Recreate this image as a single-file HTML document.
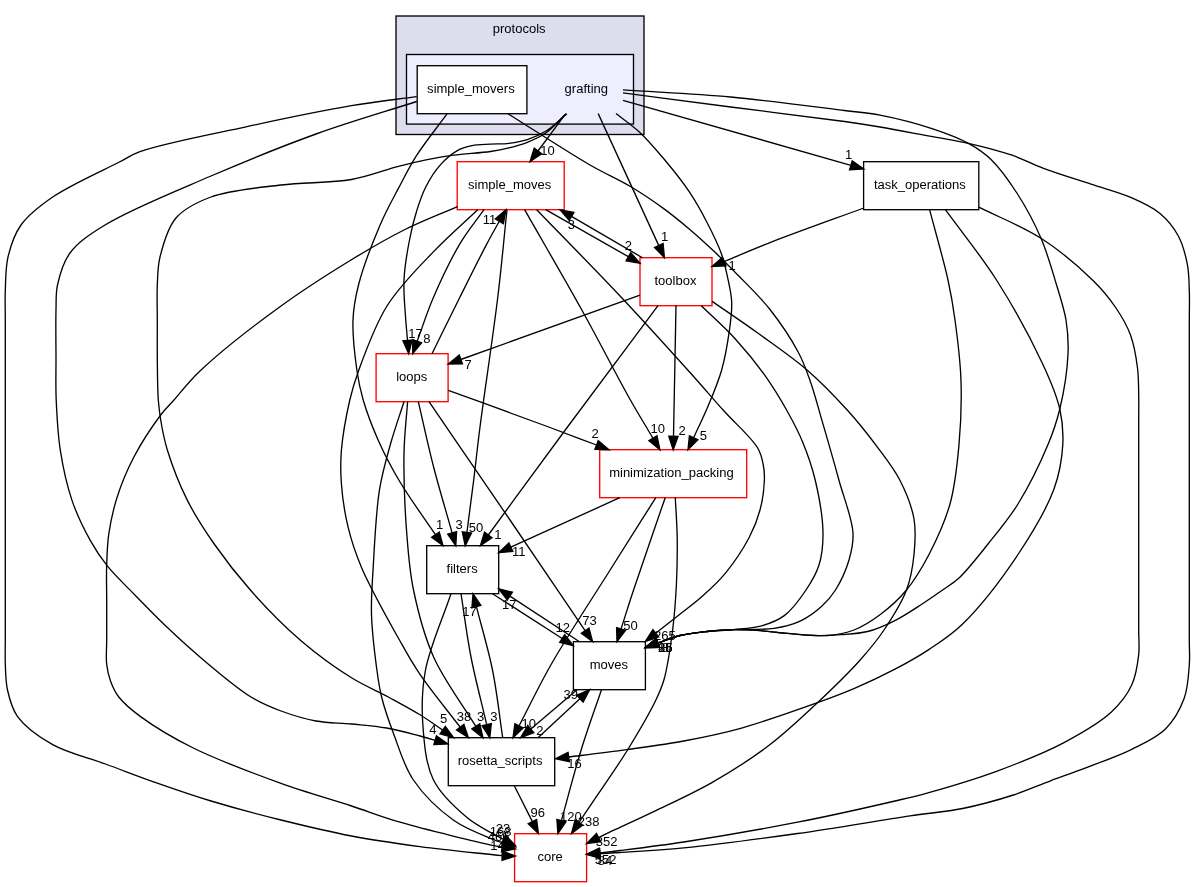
<!DOCTYPE html><html><head><meta charset="utf-8"><title>src/protocols/grafting</title>
<style>html,body{margin:0;padding:0;background:#fff}svg{display:block;will-change:transform}text{font-family:"Liberation Sans", sans-serif;font-size:13.33px;text-anchor:middle;fill:#000}.e path{fill:none;stroke:#000;stroke-width:1.33}.e polygon{fill:#000;stroke:#000;stroke-width:1.33}.n rect{stroke-width:1.33}</style></head><body>
<svg width="1195" height="887" viewBox="0 0 1195 887">
<rect width="1195" height="887" fill="#fff"/>
<rect x="396.0" y="16.0" width="248.0" height="118.5" fill="#ddddee" stroke="#000" stroke-width="1.33"/>
<text transform="translate(519.2 33.4) scale(0.978 1)">protocols</text>
<rect x="406.5" y="54.5" width="227.0" height="69.6" fill="#eeeeff" stroke="#000" stroke-width="1.33"/>
<text transform="translate(586.3 93.0) scale(0.978 1)">grafting</text>
<g class="n">
<rect x="417.2" y="65.7" width="109.7" height="48" fill="white" stroke="#000"/><text transform="translate(470.9 93.3) scale(0.978 1)">simple_movers</text>
<rect x="457.2" y="161.7" width="107.0" height="48" fill="white" stroke="#ff0000"/><text transform="translate(509.7 189.3) scale(0.978 1)">simple_moves</text>
<rect x="863.6" y="161.7" width="115.2" height="48" fill="white" stroke="#000"/><text transform="translate(919.9 189.3) scale(0.978 1)">task_operations</text>
<rect x="640.0" y="257.7" width="72.0" height="48" fill="white" stroke="#ff0000"/><text transform="translate(675.4 285.3) scale(0.978 1)">toolbox</text>
<rect x="376.1" y="353.7" width="72.0" height="48" fill="white" stroke="#ff0000"/><text transform="translate(411.7 381.3) scale(0.978 1)">loops</text>
<rect x="599.7" y="449.7" width="147.0" height="48" fill="white" stroke="#ff0000"/><text transform="translate(671.4 477.3) scale(0.978 1)">minimization_packing</text>
<rect x="426.7" y="545.7" width="72.0" height="48" fill="white" stroke="#000"/><text transform="translate(462.1 573.3) scale(0.978 1)">filters</text>
<rect x="573.4" y="641.7" width="72.0" height="48" fill="white" stroke="#000"/><text transform="translate(608.9 669.3) scale(0.978 1)">moves</text>
<rect x="448.3" y="737.7" width="106.4" height="48" fill="white" stroke="#000"/><text transform="translate(500.1 765.3) scale(0.978 1)">rosetta_scripts</text>
<rect x="514.6" y="833.7" width="72.0" height="48" fill="white" stroke="#ff0000"/><text transform="translate(550.2 861.3) scale(0.978 1)">core</text>
</g><g class="e">
<path d="M416.7,96.6C395.0,99.6 375.8,101.6 351.5,105.7C320.5,111.0 281.1,119.2 246.0,126.8C210.8,134.4 162.0,143.6 140.6,151.4C130.6,155.0 128.5,157.4 119.5,162.0C103.5,170.2 70.3,184.9 52.7,197.0C39.5,206.1 28.5,214.4 21.0,225.0C14.2,234.6 10.6,246.0 8.0,257.0C5.5,267.7 5.8,279.3 5.3,290.0C4.9,300.2 5.3,307.6 5.3,320.0C5.3,340.3 5.3,369.2 5.3,400.0C5.3,442.2 5.3,506.4 5.3,550.0C5.3,583.8 5.3,619.6 5.3,640.0C5.3,650.6 5.0,655.8 5.3,664.0C5.7,672.5 5.6,681.4 7.5,690.0C9.5,699.0 11.6,708.4 17.6,716.6C25.1,727.0 39.1,737.0 52.7,744.7C67.9,753.3 87.8,757.5 105.4,764.0C122.9,770.4 140.4,777.2 158.0,783.4C175.6,789.6 192.0,795.3 211.0,801.0C232.6,807.5 257.6,814.2 281.0,820.0C304.4,825.8 328.1,831.5 351.5,836.0C374.4,840.4 396.1,843.4 420.0,846.6C446.1,850.1 474.7,852.7 502.1,855.7"/><polygon points="502.0,860.4 515.4,856.0 502.2,851.0"/>
<path d="M416.7,101.5C383.1,112.3 349.7,121.8 316.0,134.0C281.2,146.6 245.9,161.0 211.0,176.0C175.5,191.3 130.1,209.4 105.0,225.0C89.4,234.6 78.0,242.1 70.0,253.0C63.0,262.5 59.7,274.8 57.5,285.0C55.6,293.7 56.3,300.2 56.0,310.0C55.6,323.8 56.0,344.3 56.0,360.0C56.0,374.1 55.6,385.9 56.2,400.0C56.9,415.8 57.7,433.6 60.3,450.2C62.9,467.0 66.7,484.8 72.0,500.4C76.9,514.8 83.9,529.0 90.4,540.6C95.7,550.2 100.5,557.4 107.1,565.7C114.6,575.2 124.4,584.2 133.9,594.0C144.4,604.8 156.1,616.9 167.4,627.6C178.4,638.1 188.3,647.2 200.8,657.7C215.6,670.2 235.9,687.7 251.0,697.0C261.9,703.7 270.5,707.1 281.0,711.0C292.1,715.1 304.2,718.8 316.0,721.0C327.7,723.1 339.7,722.8 351.5,724.0C363.2,725.2 375.1,726.0 386.6,728.0C397.9,730.0 411.1,733.7 420.0,736.0C426.0,737.6 430.1,738.8 435.1,740.3"/><polygon points="433.8,744.7 447.9,744.0 436.4,735.8"/>
<path d="M447.2,113.7C437.1,127.5 425.3,141.9 416.8,155.2C409.5,166.6 404.4,177.0 398.4,188.4C392.1,200.3 386.0,211.3 380.0,225.2C372.6,242.5 363.0,267.5 358.5,285.0C355.2,298.0 353.5,307.2 353.0,320.0C352.4,335.4 354.9,356.4 357.0,371.0C358.6,382.1 360.2,389.7 363.2,400.0C366.8,412.4 372.3,426.9 378.2,440.2C384.4,454.2 391.4,467.5 400.0,482.0C410.0,498.8 423.6,517.1 435.5,534.7"/><polygon points="431.6,537.3 443.0,545.7 439.3,532.1"/>
<path d="M508.0,113.7C535.3,130.8 567.2,151.8 590.0,165.0C605.8,174.1 618.1,179.2 630.9,186.8C642.8,193.9 654.2,201.7 664.4,209.1C673.4,215.7 681.0,222.0 689.2,228.9C697.6,236.0 705.8,243.5 714.0,251.3C722.4,259.2 730.1,267.1 738.8,276.0C748.7,286.2 760.3,297.2 770.0,309.5C780.2,322.5 791.4,339.3 798.3,352.2C803.5,362.0 805.9,369.0 809.6,379.3C814.3,392.3 818.5,408.6 823.1,424.4C828.2,441.9 833.9,461.7 838.9,480.0C843.8,497.9 852.2,518.2 853.0,533.0C853.6,543.4 851.7,550.9 849.0,560.0C846.1,569.9 840.6,581.8 835.5,590.0C831.4,596.5 827.4,601.1 822.0,606.0C816.0,611.5 808.5,617.1 800.7,620.8C792.6,624.6 783.9,626.8 774.0,628.3C762.0,630.1 745.8,629.0 733.7,629.6C723.9,630.1 715.9,630.5 707.0,631.5C698.0,632.5 688.5,633.5 680.0,635.5C672.2,637.4 665.3,640.5 657.9,642.9"/><polygon points="656.3,638.6 645.4,647.6 659.5,647.3"/>
<path d="M565.0,114.7C565.0,114.7 538.0,151.0 538.0,151.0"/><polygon points="534.2,148.2 530.0,161.7 541.7,153.8"/>
<path d="M566.9,113.8C559.8,119.6 552.8,126.9 545.7,131.3C539.6,135.1 533.5,137.6 527.3,139.6C521.3,141.5 515.1,142.5 508.9,143.3C502.8,144.1 496.6,143.8 490.5,144.2C484.3,144.6 477.7,144.5 472.0,145.7C466.7,146.8 462.1,147.9 457.3,150.6C451.7,153.8 445.8,158.8 440.8,164.4C435.2,170.6 430.0,178.7 426.0,186.5C422.0,194.1 419.5,202.0 416.8,210.5C413.9,219.7 411.5,229.4 409.5,240.0C407.1,252.3 404.6,267.1 404.0,280.0C403.4,292.0 404.7,304.3 405.4,315.0C406.0,324.2 406.8,331.9 407.5,340.4"/><polygon points="402.9,340.8 408.7,353.7 412.1,340.0"/>
<path d="M566.0,113.8C559.2,120.2 552.7,128.1 545.7,133.0C539.7,137.2 533.5,139.8 527.3,142.3C521.3,144.7 515.1,146.4 508.9,147.9C502.8,149.4 497.7,150.4 490.5,151.5C480.3,153.0 465.0,153.7 453.6,155.2C443.7,156.5 435.2,158.0 426.0,159.8C416.8,161.7 408.8,163.6 398.4,166.3C384.8,169.8 368.9,176.4 351.5,179.5C330.5,183.2 304.4,182.1 281.0,185.0C257.6,187.9 229.8,190.0 211.0,197.0C196.7,202.3 184.5,208.1 176.0,218.0C167.4,228.0 163.0,244.9 160.0,257.0C157.6,266.9 157.8,275.1 157.3,285.0C156.8,296.0 157.3,307.9 157.3,320.0C157.3,332.9 157.2,346.7 157.3,360.0C157.5,373.3 157.5,389.0 158.3,400.0C158.9,407.8 159.5,412.7 160.7,420.0C162.2,429.1 164.0,439.0 167.4,450.2C172.0,465.0 179.5,484.6 187.4,500.4C195.1,515.8 204.1,529.5 214.2,544.0C225.1,559.6 237.3,575.3 251.0,590.8C266.0,607.7 284.0,626.1 301.3,641.0C317.5,654.9 335.7,668.0 351.5,677.8C364.4,685.8 376.5,690.6 388.3,697.0C399.3,703.0 410.4,708.9 420.0,714.8C428.3,719.9 435.1,725.0 442.7,730.1"/><polygon points="440.0,733.9 453.6,737.7 445.3,726.3"/>
<path d="M598.2,113.6C598.2,113.6 658.8,245.6 658.8,245.6"/><polygon points="654.6,247.5 664.4,257.7 663.1,243.6"/>
<path d="M616.0,113.6C623.9,119.8 631.9,125.0 639.6,132.2C648.1,140.1 656.3,149.9 664.4,159.5C672.9,169.6 682.0,180.9 689.2,191.7C695.9,201.6 701.2,211.2 706.5,221.5C711.9,231.9 717.6,243.0 721.4,253.7C724.9,263.7 727.1,274.6 728.9,283.5C730.3,290.5 731.5,295.7 731.7,302.6C732.0,310.8 730.9,319.7 729.5,329.6C727.8,341.8 725.3,357.2 721.6,370.2C718.0,382.7 712.8,394.8 708.0,406.3C703.5,417.2 698.4,427.2 693.7,437.6"/><polygon points="689.4,435.7 688.0,449.7 697.9,439.6"/>
<path d="M623.0,100.4C623.0,100.4 850.9,165.3 850.9,165.3"/><polygon points="849.6,169.8 863.7,169.0 852.2,160.9"/>
<path d="M623.0,89.9C658.9,92.3 694.3,93.6 730.7,97.0C768.2,100.5 817.3,107.1 844.5,110.5C859.7,112.4 867.1,112.6 880.0,115.1C895.9,118.2 917.1,123.6 932.8,128.8C946.0,133.2 958.2,137.7 968.4,143.3C977.0,148.0 983.5,152.2 990.8,159.2C999.9,168.0 1009.1,180.9 1017.2,193.5C1026.0,207.1 1034.4,222.9 1041.0,238.3C1047.6,253.6 1052.4,271.2 1056.8,285.8C1060.5,298.1 1064.1,308.5 1066.0,320.0C1067.8,331.3 1068.6,341.3 1068.0,354.0C1067.3,370.2 1063.7,392.8 1059.8,409.0C1056.6,422.3 1053.5,431.4 1048.0,444.6C1040.7,462.1 1028.8,486.6 1018.0,504.0C1008.6,519.1 998.1,531.4 988.0,544.0C978.4,556.0 967.7,569.9 959.0,578.0C953.1,583.5 948.5,585.8 942.6,590.0C935.9,594.7 928.6,599.8 921.0,604.7C912.7,610.1 903.5,616.3 894.4,620.8C885.7,625.2 876.7,629.2 867.6,631.5C858.9,633.7 849.9,634.0 841.0,634.7C832.0,635.4 823.0,635.7 814.0,635.5C805.1,635.3 796.2,634.2 787.3,633.4C778.4,632.6 769.4,631.3 760.5,630.7C751.6,630.1 742.6,629.5 733.7,629.6C724.8,629.7 715.9,630.5 707.0,631.5C698.0,632.5 688.5,633.5 680.0,635.5C672.2,637.4 665.3,640.5 657.9,642.9"/><polygon points="656.3,638.6 645.4,647.6 659.5,647.3"/>
<path d="M623.0,92.9C658.9,97.6 694.3,102.3 730.7,107.0C768.1,111.8 817.3,117.7 844.5,121.5C859.7,123.6 867.0,124.8 880.0,127.0C895.9,129.7 916.9,133.8 932.8,136.7C945.8,139.1 956.0,140.5 968.4,143.3C982.3,146.5 998.8,150.7 1012.0,155.2C1023.5,159.2 1031.9,164.0 1043.6,168.4C1057.7,173.7 1075.9,179.2 1091.0,184.2C1104.8,188.8 1118.7,192.2 1130.7,197.4C1141.4,202.0 1151.6,206.5 1159.7,213.2C1167.3,219.5 1173.6,227.2 1178.2,235.7C1182.9,244.4 1185.6,255.2 1187.4,264.7C1189.1,273.6 1189.0,282.0 1189.3,291.0C1189.7,300.4 1189.3,307.9 1189.3,320.0C1189.3,340.0 1189.3,369.2 1189.3,400.0C1189.3,442.2 1189.3,506.4 1189.3,550.0C1189.3,583.8 1189.3,619.3 1189.3,640.0C1189.3,650.8 1190.0,655.9 1189.3,664.8C1188.5,675.2 1188.0,688.0 1184.1,698.6C1180.1,709.4 1173.9,720.7 1165.5,729.0C1156.7,737.8 1144.4,743.0 1131.7,749.3C1116.8,756.7 1095.8,763.9 1081.0,769.6C1069.6,774.0 1061.2,776.8 1050.6,780.8C1038.8,785.2 1026.9,790.6 1013.4,795.0C997.9,800.0 979.8,805.0 962.6,808.5C945.3,812.0 930.8,812.8 910.0,815.9C879.5,820.4 835.2,828.2 797.6,833.5C759.8,838.8 716.3,844.6 683.8,847.8C659.5,850.2 635.3,851.5 620.0,852.5C611.4,853.1 606.6,853.2 599.9,853.6"/><polygon points="599.7,849.0 586.6,854.3 600.2,858.3"/>
<path d="M484.0,209.7C476.0,221.0 467.7,230.7 460.0,243.6C450.8,259.1 441.0,279.9 433.6,297.0C427.0,312.2 422.7,326.4 417.2,341.2"/><polygon points="412.8,339.6 412.7,353.7 421.6,342.7"/>
<path d="M432.0,353.7C441.3,334.8 450.7,315.6 460.0,297.0C469.0,278.9 479.6,257.5 487.0,243.6C491.8,234.5 495.2,228.7 499.3,221.3"/><polygon points="503.4,223.6 505.9,209.7 495.3,219.0"/>
<path d="M545.7,209.7C545.7,209.7 628.4,256.7 628.4,256.7"/><polygon points="626.1,260.8 640.0,263.3 630.7,252.7"/>
<path d="M642.4,257.7C642.4,257.7 571.5,216.4 571.5,216.4"/><polygon points="573.9,212.4 560.0,209.7 569.2,220.4"/>
<path d="M524.6,209.7C544.2,244.1 565.2,279.9 583.5,313.0C600.2,343.1 617.4,377.0 630.4,400.0C639.1,415.4 645.5,425.5 653.0,438.3"/><polygon points="649.0,440.7 659.9,449.7 657.0,435.9"/>
<path d="M507.0,209.7C503.9,238.8 501.7,265.0 497.8,297.0C493.1,336.1 484.3,393.2 480.0,427.0C477.2,448.5 475.9,462.4 473.7,480.0C471.5,497.5 469.2,515.0 466.9,532.5"/><polygon points="462.3,531.9 465.2,545.7 471.5,533.1"/>
<path d="M536.7,209.7C564.8,238.8 594.5,268.8 621.0,297.0C645.3,322.9 671.1,351.5 690.0,372.5C703.3,387.3 712.5,398.2 723.8,410.8C735.0,423.3 751.5,437.4 757.7,448.0C761.4,454.3 762.2,459.4 763.3,465.0C764.3,470.1 764.6,474.2 764.4,480.0C764.1,488.3 762.6,500.4 760.0,510.0C757.5,519.5 754.2,527.9 749.3,537.3C743.4,548.7 734.1,562.5 725.7,572.8C718.2,581.9 710.1,589.3 702.0,596.5C694.3,603.4 686.1,609.2 678.3,615.4C670.7,621.4 663.3,627.3 655.8,633.2"/><polygon points="652.9,629.6 645.3,641.5 658.7,636.9"/>
<path d="M477.7,209.7C463.0,223.7 448.1,236.3 433.6,251.6C417.8,268.2 399.5,286.0 387.0,306.0C374.5,325.9 364.9,353.5 358.5,371.0C354.3,382.4 352.4,388.9 349.8,400.0C346.5,414.4 342.7,435.1 341.4,450.2C340.4,462.4 340.5,471.8 341.4,483.7C342.4,497.3 344.7,513.1 348.1,527.2C351.4,541.0 355.1,552.3 361.5,567.4C370.5,588.6 389.0,621.4 400.0,641.0C407.5,654.4 411.8,662.3 420.0,674.4C430.7,690.3 446.8,709.6 460.2,727.2"/><polygon points="456.5,730.0 468.4,737.7 463.9,724.3"/>
<path d="M457.4,206.6C439.6,214.4 421.5,221.2 404.0,230.0C386.1,239.0 369.7,248.6 351.0,260.0C329.1,273.4 304.8,288.7 281.0,306.0C254.5,325.2 219.0,353.0 200.0,371.0C188.3,382.0 181.2,391.9 174.0,400.0C168.8,405.8 165.6,408.5 160.7,415.0C153.0,425.3 141.3,442.8 133.9,457.0C127.0,470.2 121.4,483.8 117.2,497.0C113.2,509.4 110.6,521.8 108.8,533.9C107.1,545.3 107.0,556.3 106.6,567.4C106.3,578.3 106.7,588.6 106.7,600.0C106.7,612.7 106.7,628.3 106.7,640.0C106.7,649.1 105.8,657.1 106.7,664.4C107.4,670.5 108.5,675.6 110.5,681.0C112.5,686.5 114.7,691.8 118.8,697.0C124.0,703.7 131.3,709.8 140.6,716.6C154.0,726.5 173.1,738.0 193.3,748.0C218.4,760.5 253.2,773.3 281.0,783.4C305.6,792.3 330.2,799.0 351.5,806.0C369.2,811.8 381.1,816.7 400.0,822.2C426.0,829.8 479.2,842.5 493.7,845.6C498.0,846.5 499.4,846.6 502.2,847.1"/><polygon points="501.5,851.7 515.4,849.0 502.9,842.5"/>
<path d="M863.8,208.0C832.5,219.5 795.6,232.6 770.0,242.6C752.0,249.6 739.5,255.2 724.3,261.5"/><polygon points="722.5,257.2 712.0,266.6 726.1,265.8"/>
<path d="M929.6,209.7C935.7,233.1 943.6,259.8 948.0,280.0C951.3,295.1 953.0,305.2 955.0,320.0C957.5,338.2 960.3,360.4 961.0,381.0C961.7,402.0 960.9,423.8 959.0,444.6C957.2,464.8 955.2,485.3 950.0,504.0C945.0,521.8 936.8,539.4 929.0,554.5C922.1,567.7 914.9,579.8 906.5,590.0C898.8,599.3 890.0,607.2 881.0,614.0C872.5,620.4 863.3,626.4 854.0,630.0C845.4,633.3 837.3,634.8 827.5,635.5C815.5,636.4 799.3,634.3 787.3,633.4C777.5,632.6 769.4,631.3 760.5,630.7C751.6,630.1 742.6,629.5 733.7,629.6C724.8,629.7 715.9,630.5 707.0,631.5C698.0,632.5 688.5,633.5 680.0,635.5C672.2,637.4 665.3,640.5 657.9,642.9"/><polygon points="656.3,638.6 645.4,647.6 659.5,647.3"/>
<path d="M945.4,209.7C962.4,233.1 980.6,255.0 996.5,280.0C1013.2,306.3 1031.6,340.0 1042.7,364.0C1050.6,381.0 1056.5,394.7 1059.8,409.0C1062.6,421.4 1063.5,432.1 1062.8,444.6C1062.0,458.6 1059.7,473.2 1054.0,489.0C1046.6,509.3 1032.4,532.9 1018.0,554.5C1002.3,578.0 979.8,607.2 962.6,624.0C950.7,635.6 940.3,641.9 928.8,649.6C917.8,656.9 906.9,662.9 895.0,669.2C882.2,675.9 867.8,682.7 854.5,688.4C842.0,693.8 832.1,697.4 817.5,702.7C796.6,710.2 764.5,721.7 740.7,728.3C720.5,733.9 702.8,737.4 683.8,741.0C664.9,744.5 646.0,746.9 626.9,749.6C607.6,752.3 588.1,754.6 568.7,757.0"/><polygon points="568.1,752.4 555.5,758.7 569.3,761.7"/>
<path d="M978.9,207.2C999.6,217.6 1021.8,225.9 1041.0,238.3C1059.8,250.4 1079.6,267.3 1093.0,280.5C1102.8,290.1 1109.6,298.5 1116.0,308.0C1121.9,316.7 1126.9,325.3 1130.5,335.0C1134.2,345.2 1136.2,357.5 1137.5,368.0C1138.7,377.4 1138.5,386.2 1138.7,395.0C1138.9,403.5 1138.7,411.3 1138.7,420.0C1138.7,429.5 1138.7,436.9 1138.7,450.0C1138.7,475.2 1138.7,527.5 1138.7,560.0C1138.7,586.0 1138.7,612.6 1138.7,630.0C1138.7,640.3 1139.6,646.0 1138.7,654.6C1137.6,664.3 1136.1,675.6 1131.7,685.0C1127.2,694.8 1120.5,703.5 1111.4,712.0C1099.6,723.0 1081.6,733.2 1064.0,742.6C1043.9,753.3 1019.2,762.9 996.5,771.3C974.1,779.5 947.6,787.3 928.8,792.6C915.7,796.3 909.2,797.7 895.0,801.0C871.0,806.6 831.4,815.6 797.6,822.2C761.2,829.3 716.3,837.0 683.8,842.0C659.5,845.7 635.3,848.6 620.0,850.5C611.4,851.6 606.6,852.1 599.8,852.8"/><polygon points="599.3,848.2 586.6,854.3 600.4,857.5"/>
<path d="M640.0,295.2C640.0,295.2 460.8,359.5 460.8,359.5"/><polygon points="459.3,355.1 448.3,364.0 462.4,363.9"/>
<path d="M658.0,305.7C627.8,346.1 596.6,387.7 567.5,427.0C540.1,464.0 514.7,499.0 488.3,535.0"/><polygon points="484.5,532.2 480.4,545.7 492.0,537.7"/>
<path d="M676.0,305.7C676.0,305.7 673.5,436.4 673.5,436.4"/><polygon points="668.8,436.3 673.2,449.7 678.1,436.5"/>
<path d="M701.3,305.7C712.6,316.7 724.5,327.1 735.1,338.7C745.6,350.2 755.6,362.4 764.4,374.7C772.8,386.5 780.4,399.0 787.0,410.8C793.0,421.5 798.2,431.2 802.8,442.4C807.7,454.2 811.9,466.2 815.2,480.0C819.0,496.1 822.9,518.1 823.0,533.6C823.1,545.4 822.0,555.4 819.0,565.0C816.2,574.1 811.4,581.9 806.0,590.0C800.1,598.8 792.7,609.3 784.6,615.4C777.4,620.9 768.9,623.8 760.5,626.2C752.0,628.6 742.6,628.7 733.7,629.6C724.8,630.5 715.9,630.5 707.0,631.5C698.0,632.5 688.5,633.5 680.0,635.5C672.2,637.4 665.3,640.5 657.9,642.9"/><polygon points="656.3,638.6 645.4,647.6 659.5,647.3"/>
<path d="M712.1,301.4C727.3,311.9 742.3,321.9 757.7,333.0C774.0,344.8 792.0,357.0 807.3,370.2C822.0,382.9 835.8,397.4 847.9,410.8C858.8,422.9 868.3,434.9 877.2,446.9C885.5,458.0 893.7,468.1 899.8,480.0C906.0,492.1 911.7,506.1 914.0,519.0C916.1,530.9 915.2,542.7 914.0,554.5C912.8,566.4 911.0,578.2 906.5,590.0C901.5,603.3 892.1,617.9 884.0,630.0C876.6,641.0 869.6,649.4 860.2,660.0C848.3,673.3 832.4,688.7 817.5,702.7C802.1,717.2 786.4,732.2 769.1,745.3C751.4,758.8 731.6,771.3 712.3,782.3C693.6,793.0 673.0,802.3 655.3,810.8C640.1,818.1 623.1,825.8 612.7,830.7C606.7,833.6 603.3,835.3 598.6,837.6"/><polygon points="596.5,833.4 586.6,843.5 600.6,841.8"/>
<path d="M448.3,390.3C481.8,402.5 521.4,416.9 548.7,427.0C567.6,434.0 580.6,439.0 596.5,445.0"/><polygon points="594.9,449.4 609.0,449.7 598.2,440.6"/>
<path d="M418.3,401.7C423.4,423.5 428.0,445.2 433.6,467.0C439.3,489.0 446.0,510.9 452.1,532.9"/><polygon points="447.7,534.2 455.8,545.7 456.6,531.6"/>
<path d="M429.0,401.7C456.0,441.1 483.5,481.2 510.0,520.0C535.5,557.5 560.1,593.8 585.1,630.7"/><polygon points="581.3,633.3 592.6,641.7 589.0,628.0"/>
<path d="M407.6,401.7C406.4,419.0 404.3,434.4 404.0,453.6C403.6,477.5 404.9,509.7 406.8,534.0C408.4,554.4 409.5,570.7 413.5,590.0C418.0,611.5 423.8,635.1 433.6,657.0C444.1,680.6 461.8,703.3 475.9,726.4"/><polygon points="471.9,728.9 483.0,737.7 479.8,723.9"/>
<path d="M404.0,401.7C399.7,415.2 395.0,428.2 391.0,442.3C386.8,457.4 382.4,471.8 379.5,489.7C375.9,512.3 374.5,544.8 373.2,567.4C372.2,585.0 371.0,598.1 371.5,614.2C372.0,631.5 374.6,652.7 376.6,667.8C378.1,679.0 379.1,686.8 381.6,697.0C384.5,708.7 388.8,721.1 393.7,734.0C399.2,748.6 403.9,766.0 413.4,780.0C423.5,794.9 439.3,810.0 453.6,820.2C466.3,829.2 485.0,835.9 493.7,839.6C497.7,841.3 499.7,841.8 502.7,842.9"/><polygon points="501.3,847.4 515.4,847.0 504.1,838.5"/>
<path d="M619.7,497.7C619.7,497.7 510.8,547.2 510.8,547.2"/><polygon points="508.9,542.9 498.7,552.7 512.8,551.4"/>
<path d="M665.2,497.7C654.9,527.6 642.5,563.2 634.4,587.5C628.9,603.9 625.5,615.2 621.0,629.0"/><polygon points="616.6,627.6 617.0,641.7 625.5,630.4"/>
<path d="M655.8,497.7C639.7,523.1 624.2,547.5 607.6,574.0C589.5,602.7 567.1,636.5 551.4,664.0C538.6,686.3 529.9,705.2 519.1,725.8"/><polygon points="514.9,723.7 513.0,737.7 523.2,728.0"/>
<path d="M675.3,497.7C675.9,510.9 677.0,523.5 677.2,537.3C677.4,552.4 677.2,568.9 676.4,584.7C675.6,600.5 674.4,616.3 672.4,632.0C670.3,647.8 667.6,666.9 664.1,679.3C661.7,687.8 659.9,691.7 655.9,700.0C649.5,713.4 636.8,734.9 626.9,751.0C617.6,766.0 607.0,780.9 598.4,793.7C591.3,804.2 585.4,812.9 579.0,822.5"/><polygon points="575.1,819.8 571.5,833.5 582.8,825.1"/>
<path d="M492.5,593.7C492.5,593.7 562.2,638.5 562.2,638.5"/><polygon points="559.7,642.4 573.4,645.7 564.7,634.6"/>
<path d="M579.5,641.7C579.5,641.7 509.9,596.1 509.9,596.1"/><polygon points="512.4,592.2 498.7,588.8 507.3,600.0"/>
<path d="M461.0,593.7C464.3,614.8 466.8,635.6 471.0,657.0C475.3,679.3 481.5,702.2 486.7,724.7"/><polygon points="482.2,725.8 489.8,737.7 491.3,723.7"/>
<path d="M502.7,737.7C499.3,715.1 497.0,692.1 492.5,670.0C488.1,648.4 481.8,627.7 476.4,606.6"/><polygon points="480.9,605.4 473.0,593.7 471.9,607.8"/>
<path d="M451.0,593.7C442.5,619.1 429.9,646.5 425.5,670.0C421.9,689.3 421.5,705.9 422.8,724.0C424.1,742.6 425.6,764.1 433.5,780.0C440.9,794.9 455.8,808.1 467.0,817.5C475.9,825.0 486.9,830.3 493.7,834.2C497.7,836.5 500.2,837.7 503.5,839.5"/><polygon points="501.4,843.6 515.4,845.5 505.6,835.3"/>
<path d="M577.0,689.7C577.0,689.7 530.8,729.1 530.8,729.1"/><polygon points="527.7,725.5 520.6,737.7 533.8,732.6"/>
<path d="M538.0,737.7C538.0,737.7 579.9,698.8 579.9,698.8"/><polygon points="583.1,702.2 589.7,689.7 576.8,695.3"/>
<path d="M601.5,689.7C594.6,710.0 587.4,729.6 580.9,750.7C574.0,773.1 567.9,797.3 561.4,820.6"/><polygon points="556.9,819.4 557.9,833.5 565.9,821.9"/>
<path d="M514.3,785.7C514.3,785.7 532.4,821.6 532.4,821.6"/><polygon points="528.2,823.7 538.4,833.5 536.6,819.5"/>
</g><g class="l"><text transform="translate(497.5 850.1) scale(0.978 1)">14</text><text transform="translate(432.9 733.8) scale(0.978 1)">4</text><text transform="translate(439.7 529.0) scale(0.978 1)">1</text><text transform="translate(665.3 652.2) scale(0.978 1)">8</text><text transform="translate(547.6 155.2) scale(0.978 1)">10</text><text transform="translate(415.5 337.9) scale(0.978 1)">17</text><text transform="translate(443.5 723.4) scale(0.978 1)">5</text><text transform="translate(664.5 240.7) scale(0.978 1)">1</text><text transform="translate(703.4 439.9) scale(0.978 1)">5</text><text transform="translate(848.6 158.9) scale(0.978 1)">1</text><text transform="translate(665.3 652.2) scale(0.978 1)">25</text><text transform="translate(605.1 864.8) scale(0.978 1)">84</text><text transform="translate(426.8 342.5) scale(0.978 1)">8</text><text transform="translate(489.6 224.3) scale(0.978 1)">11</text><text transform="translate(628.4 250.0) scale(0.978 1)">2</text><text transform="translate(571.4 229.1) scale(0.978 1)">3</text><text transform="translate(657.8 432.8) scale(0.978 1)">10</text><text transform="translate(475.9 531.8) scale(0.978 1)">50</text><text transform="translate(664.8 639.9) scale(0.978 1)">265</text><text transform="translate(464.0 721.2) scale(0.978 1)">38</text><text transform="translate(498.6 841.1) scale(0.978 1)">466</text><text transform="translate(732.0 270.4) scale(0.978 1)">1</text><text transform="translate(665.3 652.2) scale(0.978 1)">15</text><text transform="translate(574.5 767.8) scale(0.978 1)">16</text><text transform="translate(605.5 863.7) scale(0.978 1)">552</text><text transform="translate(468.2 368.8) scale(0.978 1)">7</text><text transform="translate(497.9 539.1) scale(0.978 1)">1</text><text transform="translate(682.0 434.7) scale(0.978 1)">2</text><text transform="translate(665.3 652.2) scale(0.978 1)">86</text><text transform="translate(606.6 846.1) scale(0.978 1)">352</text><text transform="translate(595.0 438.4) scale(0.978 1)">2</text><text transform="translate(459.0 529.0) scale(0.978 1)">3</text><text transform="translate(589.4 625.0) scale(0.978 1)">73</text><text transform="translate(480.5 720.9) scale(0.978 1)">3</text><text transform="translate(500.7 836.4) scale(0.978 1)">168</text><text transform="translate(518.7 555.9) scale(0.978 1)">11</text><text transform="translate(630.6 630.0) scale(0.978 1)">50</text><text transform="translate(528.8 728.4) scale(0.978 1)">10</text><text transform="translate(588.7 826.2) scale(0.978 1)">238</text><text transform="translate(562.7 631.8) scale(0.978 1)">12</text><text transform="translate(509.2 608.8) scale(0.978 1)">17</text><text transform="translate(493.8 721.1) scale(0.978 1)">3</text><text transform="translate(469.4 616.4) scale(0.978 1)">17</text><text transform="translate(503.1 832.8) scale(0.978 1)">23</text><text transform="translate(539.9 735.4) scale(0.978 1)">2</text><text transform="translate(570.7 698.8) scale(0.978 1)">39</text><text transform="translate(570.8 821.3) scale(0.978 1)">120</text><text transform="translate(537.8 816.5) scale(0.978 1)">96</text></g>
</svg></body></html>
